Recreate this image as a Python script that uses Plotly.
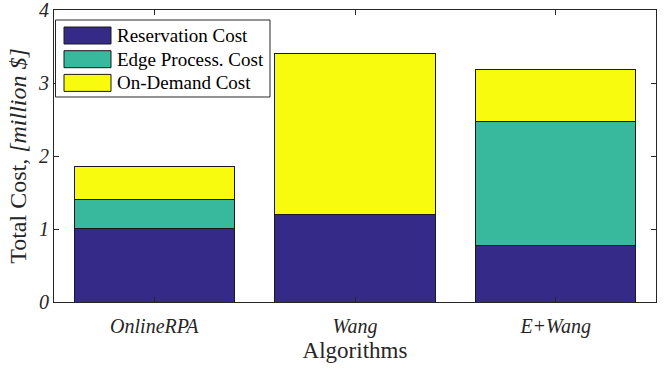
import plotly.graph_objects as go

algorithms = ["OnlineRPA", "Wang", "E+Wang"]
reservation = [1.01, 1.20, 0.78]
edge_process = [0.39, 0.00, 1.69]
on_demand = [0.45, 2.21, 0.72]

series = [
    ("Reservation Cost", reservation, "#352a87"),
    ("Edge Process. Cost", edge_process, "#38b99e"),
    ("On-Demand Cost", on_demand, "#f9fb0e"),
]

FONT = "Liberation Serif"
INK = "#262626"

fig = go.Figure()

for name, vals, color in series:
    fig.add_trace(go.Bar(
        x=algorithms,
        y=vals,
        name=name,
        marker=dict(color=color, line=dict(color="#1a1a1a", width=1)),
        showlegend=False
    ))

# MATLAB style legend box, drawn by hand so the swatches can be wide
W, H = 602, 292
def px(x):
    return (x - 54) / W
def py(y):
    return (302 - y) / H

fig.add_shape(type="rect", xref="paper", yref="paper",
              x0=px(55.5), x1=px(270), y0=py(97), y1=py(20),
              line=dict(color=INK, width=1), fillcolor="white")

for i, (name, vals, color) in enumerate(series):
    yc = 35.5 + i * 23.7
    fig.add_shape(type="rect", xref="paper", yref="paper",
                  x0=px(64), x1=px(111), y0=py(yc + 8.5), y1=py(yc - 8.5),
                  line=dict(color="#1a1a1a", width=1), fillcolor=color)
    fig.add_annotation(xref="paper", yref="paper", x=px(115), y=py(yc),
                       text=name, showarrow=False, xanchor="left",
                       yanchor="middle",
                       font=dict(family=FONT, size=19, color="black"))

fig.update_layout(
    width=664,
    height=370,
    margin=dict(l=54, r=8, t=10, b=68),
    barmode="stack",
    bargap=0.2,
    plot_bgcolor="white",
    paper_bgcolor="white",
    font=dict(family=FONT, color=INK),
    xaxis=dict(
        range=[-0.5, 2.5],
        automargin=False,
        showline=True, linecolor=INK, linewidth=1, mirror="ticks",
        ticks="inside", ticklen=5, tickcolor=INK,
        ticklabelstandoff=6,
        tickfont=dict(family=FONT, size=20, style="italic", color=INK),
        title=dict(text="Algorithms", font=dict(family=FONT, size=23, color=INK),
                   standoff=4),
        showgrid=False
    ),
    yaxis=dict(
        range=[0, 4],
        automargin=False,
        tickvals=[0, 1, 2, 3, 4],
        ticklabeloverflow="allow",
        showline=True, linecolor=INK, linewidth=1, mirror="ticks",
        ticks="inside", ticklen=5, tickcolor=INK,
        tickfont=dict(family=FONT, size=20, style="italic", color=INK),
        title=dict(text="Total Cost, <i>[million $]</i>",
                   font=dict(family=FONT, size=24, color=INK), standoff=4),
        showgrid=False, zeroline=False
    )
)

fig.write_html("out.html",
               config={"displayModeBar": False},
               post_script="document.body.style.margin='0';document.body.style.overflow='hidden';")
